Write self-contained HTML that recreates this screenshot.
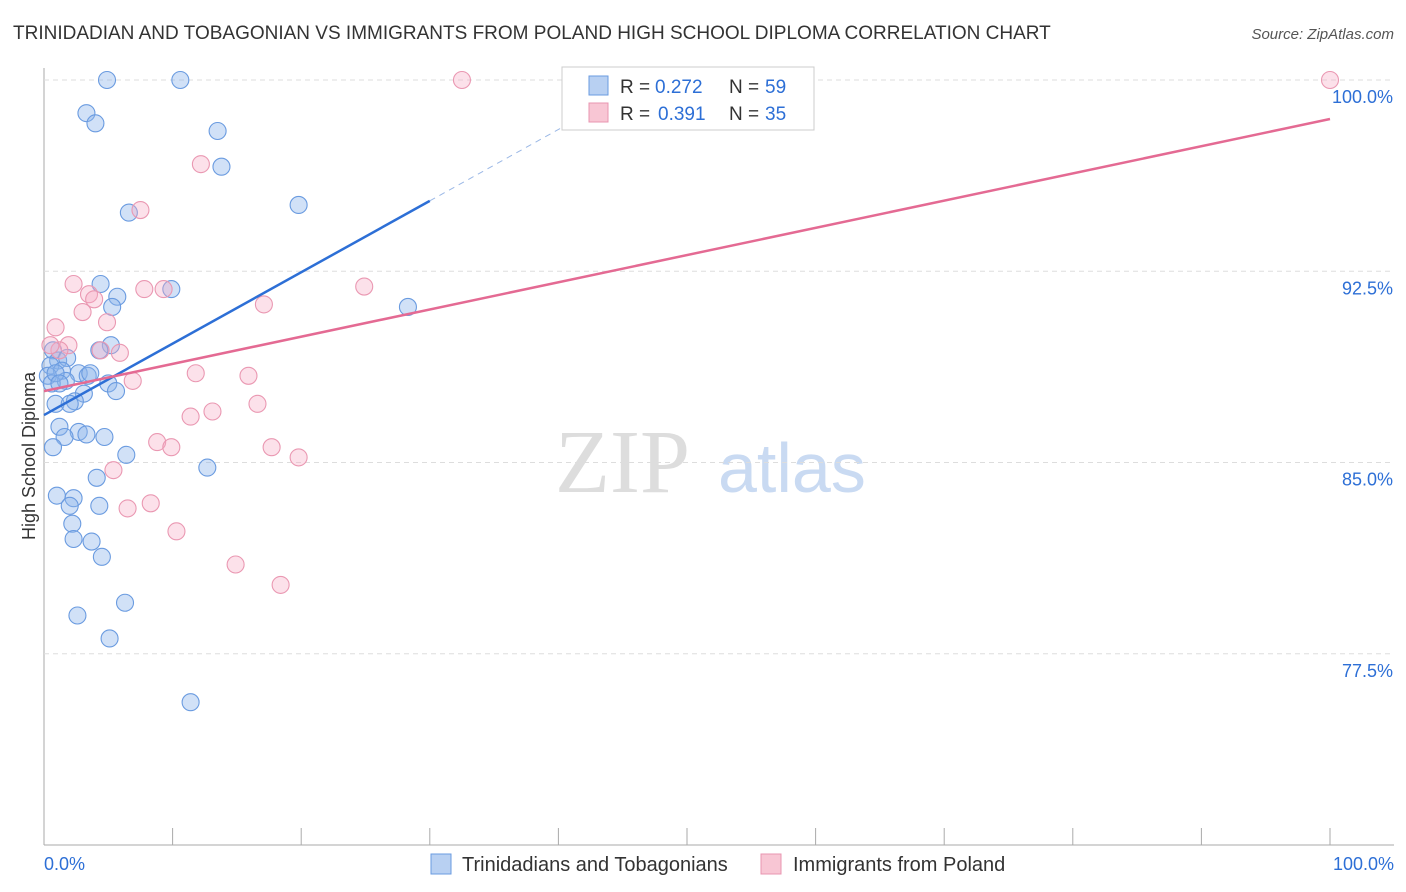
<!DOCTYPE html>
<html><head><meta charset="utf-8"><style>
body{margin:0;background:#fff;font-family:"Liberation Sans",sans-serif;}
</style></head><body>
<svg id="c" width="1406" height="892" style="display:block">
<text x="13" y="39" font-size="19" fill="#333">TRINIDADIAN AND TOBAGONIAN VS IMMIGRANTS FROM POLAND HIGH SCHOOL DIPLOMA CORRELATION CHART</text>
<text x="1394" y="39" font-size="15" fill="#555" font-style="italic" text-anchor="end">Source: ZipAtlas.com</text>
<text x="35" y="456" font-size="18" fill="#333" text-anchor="middle" transform="rotate(-90 35 456)">High School Diploma</text>
<text x="555" y="492" font-size="90" fill="#ddd" font-family="Liberation Serif,serif">ZIP</text>
<text x="718" y="492" font-size="70" fill="#c9daf2">atlas</text>
<g id="grid"></g><g id="pts"></g><g id="lines"></g>
<g>
<rect x="562" y="67" width="252" height="63" fill="#fff" stroke="#ccc"/>
<rect x="589" y="76" width="19" height="19" fill="#b8d0f2" stroke="#6a9be0"/>
<rect x="589" y="103" width="19" height="19" fill="#f8c6d4" stroke="#e895b0"/>
<text x="620" y="93" font-size="19" fill="#333">R =</text>
<text x="655" y="93" font-size="19" fill="#2d6fd6">0.272</text>
<text x="729" y="93" font-size="19" fill="#333">N =</text>
<text x="765" y="93" font-size="19" fill="#2d6fd6">59</text>
<text x="620" y="120" font-size="19" fill="#333">R =</text>
<text x="658" y="120" font-size="19" fill="#2d6fd6">0.391</text>
<text x="729" y="120" font-size="19" fill="#333">N =</text>
<text x="765" y="120" font-size="19" fill="#2d6fd6">35</text>
</g>
<g>
<rect x="431" y="854" width="20" height="20" fill="#b8d0f2" stroke="#6a9be0"/>
<text x="462" y="871" font-size="20" fill="#333">Trinidadians and Tobagonians</text>
<rect x="761" y="854" width="20" height="20" fill="#f8c6d4" stroke="#e895b0"/>
<text x="793" y="871" font-size="20" fill="#333">Immigrants from Poland</text>
</g>
</svg>
<script>
const blueX=[4.9,10.6,3.3,4.0,13.5,13.8,6.6,19.8,4.4,9.9,5.7,5.3,28.3,5.2,4.3,0.7,1.1,1.8,0.5,1.4,2.7,3.4,0.3,1.7,0.6,5.0,5.6,3.1,0.9,2.4,2.0,1.2,2.7,1.6,3.3,4.7,0.7,6.4,12.7,4.1,1.0,2.3,4.3,2.0,2.2,2.3,3.7,4.5,6.3,2.6,5.1,11.4,0.9,1.2,3.6];
const blueY=[100,100,98.7,98.3,98.0,96.6,94.8,95.1,92.0,91.8,91.5,91.1,91.1,89.6,89.4,89.4,89.0,89.1,88.8,88.6,88.5,88.4,88.4,88.2,88.1,88.1,87.8,87.7,87.3,87.4,87.3,86.4,86.2,86.0,86.1,86.0,85.6,85.3,84.8,84.4,83.7,83.6,83.3,83.3,82.6,82.0,81.9,81.3,79.5,79.0,78.1,75.6,88.5,88.1,88.5];
const pinkX=[32.5,100,12.2,7.5,2.3,7.8,9.3,24.9,3.5,3.9,17.1,3.0,4.9,0.9,1.9,1.2,4.4,5.9,6.9,11.8,15.9,16.6,13.1,11.4,8.8,9.9,17.7,19.8,5.4,8.3,6.5,10.3,14.9,18.4,0.5];
const pinkY=[100,100,96.7,94.9,92.0,91.8,91.8,91.9,91.6,91.4,91.2,90.9,90.5,90.3,89.6,89.4,89.4,89.3,88.2,88.5,88.4,87.3,87.0,86.8,85.8,85.6,85.6,85.2,84.7,83.4,83.2,82.3,81.0,80.2,89.6];
const yTicks=[100,92.5,85,77.5];
const X=v=>44+v*12.86, Y=v=>80+(100-v)*25.5;
const NS="http://www.w3.org/2000/svg";
function mk(t,a,p){const e=document.createElementNS(NS,t);for(const k in a)e.setAttribute(k,a[k]);p.appendChild(e);return e;}
const g=document.getElementById('grid');
mk('line',{x1:44,y1:68,x2:44,y2:845,stroke:'#aaa'},g);
mk('line',{x1:44,y1:845,x2:1394,y2:845,stroke:'#aaa'},g);
yTicks.forEach(t=>{const l=mk('line',{x1:44,y1:Y(t),x2:1394,y2:Y(t),stroke:'#ddd','stroke-dasharray':'5,4'},g);


const tx=mk('text',{x:1393,y:Y(t)+23,'font-size':18,fill:'#2d6fd6','text-anchor':'end'},g);tx.textContent=t.toFixed(1)+'%';

});
for(let i=1;i<=10;i++){mk('line',{x1:X(i*10),y1:828,x2:X(i*10),y2:845,stroke:'#aaa'},g);}
const x0=mk('text',{x:44,y:870,'font-size':18,fill:'#2d6fd6'},g);x0.textContent='0.0%';


const x1=mk('text',{x:1394,y:870,'font-size':18,fill:'#2d6fd6','text-anchor':'end'},g);x1.textContent='100.0%';


const p=document.getElementById('pts');
blueX.forEach((v,i)=>{const c=mk('circle',{cx:X(v),cy:Y(blueY[i]),r:8.5,fill:'rgba(140,180,235,0.4)',stroke:'#6a9be0','stroke-width':1.1},p);

});
pinkX.forEach((v,i)=>{const c=mk('circle',{cx:X(v),cy:Y(pinkY[i]),r:8.5,fill:'rgba(245,170,195,0.35)',stroke:'#ea98b2','stroke-width':1.1},p);

});
const L=document.getElementById('lines');
const bf=x=>86.86+0.28*x, pf=x=>87.80+0.1067*x;
let a=mk('line',{x1:X(0),y1:Y(bf(0)),x2:X(30),y2:Y(bf(30)),stroke:'#2d6fd6','stroke-width':2.5},L);


let b=mk('line',{x1:X(30),y1:Y(bf(30)),x2:X(42.5),y2:Y(bf(42.5)),stroke:'#9bb8e6','stroke-width':1,'stroke-dasharray':'6,5'},L);


let c=mk('line',{x1:X(0),y1:Y(pf(0)),x2:X(100),y2:Y(pf(100)),stroke:'#e46a93','stroke-width':2.5},L);


</script>
</body></html>
